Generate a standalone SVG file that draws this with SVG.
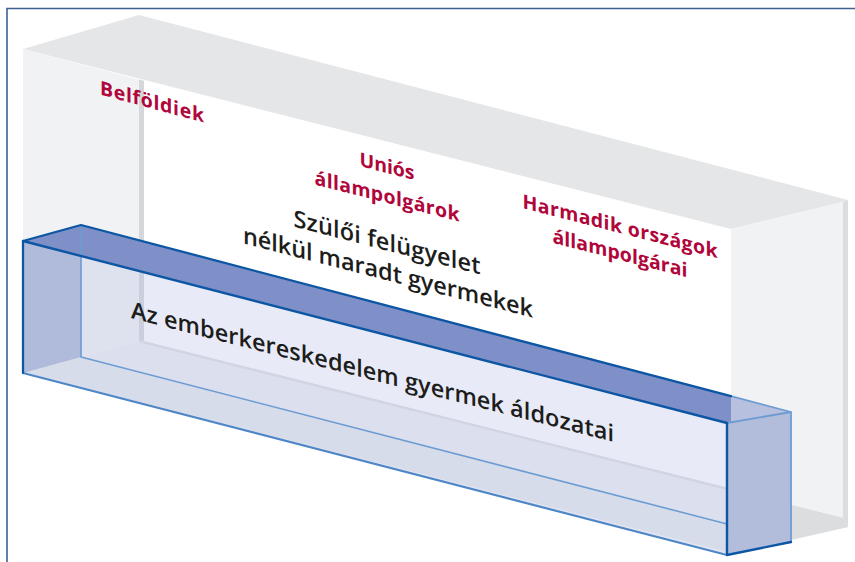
<svg xmlns="http://www.w3.org/2000/svg" width="855" height="562" viewBox="0 0 855 562">
<style>
.red{fill:#b0063b;font-family:"Open Sans","Liberation Sans",sans-serif;font-weight:700;font-size:19.5px;text-anchor:middle}
.blk{fill:#1d1d1b;font-family:"Open Sans","Liberation Sans",sans-serif;font-weight:600;font-size:23.5px;text-anchor:middle}
.dk{stroke:#0c56a3;fill:none;stroke-linejoin:round;stroke-linecap:round}
.lt{stroke:#6d9cd3;fill:none;stroke-linejoin:round;stroke-linecap:round}
</style>
<rect width="855" height="562" fill="#ffffff"/>
<g id="frame"><path d="M7 562 V8.5 H855" fill="none" stroke="#3d6190" stroke-width="1.6"/></g>
<g id="gray-box">
<polygon points="23,372 139,341 843,518 848,527 731,553" fill="#eeeff2"/>
<polygon points="23,49 139,15 848,200 843,202 731,229" fill="#e5e6e8"/>
<polygon points="23,49 139,79.5 139,341 23,372" fill="#f1f2f4"/>
<polygon points="139,79.5 144,80.8 144,342.3 139,341" fill="#d6d7da"/>
<line x1="139" y1="341" x2="843" y2="518" stroke="#dfe0e3" stroke-width="2.5"/>
<polygon points="731,229 843,202 843,518 731,490" fill="#f1f2f4"/>
<polygon points="843,202 848,200 848,527 843,518" fill="#dcdddf"/>
<polygon points="791,505 843,518 848,527 791,540" fill="#dcdddf"/>
</g>
<g id="labels-red">
<text class="red" transform="translate(152,108.5) skewY(15)" textLength="104">Belföldiek</text>
<text class="red" transform="translate(387,173) skewY(14.4)" textLength="55">Uniós</text>
<text class="red" transform="translate(387,203) skewY(14.4)" textLength="145">állampolgárok</text>
<text class="red" transform="translate(620,233) skewY(14.4)" textLength="195">Harmadik országok</text>
<text class="red" transform="translate(620,260) skewY(14.4)" textLength="135">állampolgárai</text>
</g>
<g id="label-szuloi">
<text class="blk" transform="translate(387,250.5) skewY(14.4)" textLength="187">Szülői felügyelet</text>
<text class="blk" transform="translate(388,280.5) skewY(14.4)" textLength="290">nélkül maradt gyermekek</text>
</g>
<g id="blue-box">
<polygon points="23,241 727,423 727,555 23,373" fill="#b4bee6" fill-opacity="0.3"/>
<polygon points="81,357 791,542 727,555 23,373" fill="#9aa3c8" fill-opacity="0.07"/>
<polygon points="23,241 81,225 81,357 23,373" fill="#b0bbdb"/>
<polygon points="727,423 791,412 791,542 727,555" fill="#b2bcdb"/>
<polygon points="23,241 81,225 731,396.2 731,422.3 727,423" fill="#7f90c8"/>
<polygon points="731,396.2 791,412 731,422.3" fill="#b7c0de"/>
<path class="lt" d="M81 225 V357 L727 524" stroke="#8db2de" stroke-width="1.6"/>
<path class="lt" d="M731 396.2 L791 412 L727 423 M791 412 V542" stroke-width="1.8"/>
<path d="M23 373 L727 555" stroke="#4f86c6" stroke-width="2.2" fill="none"/>
<path class="dk" d="M23 373 V241 L81 225 L731 396.2" stroke-width="2.3"/>
<path class="dk" d="M23 241 L727 423 V555 L791 542" stroke-width="2.4"/>
</g>
<g id="label-az">
<text class="blk" transform="translate(372.5,380) skewY(14.4)" textLength="483">Az emberkereskedelem gyermek áldozatai</text>
</g>
</svg>
